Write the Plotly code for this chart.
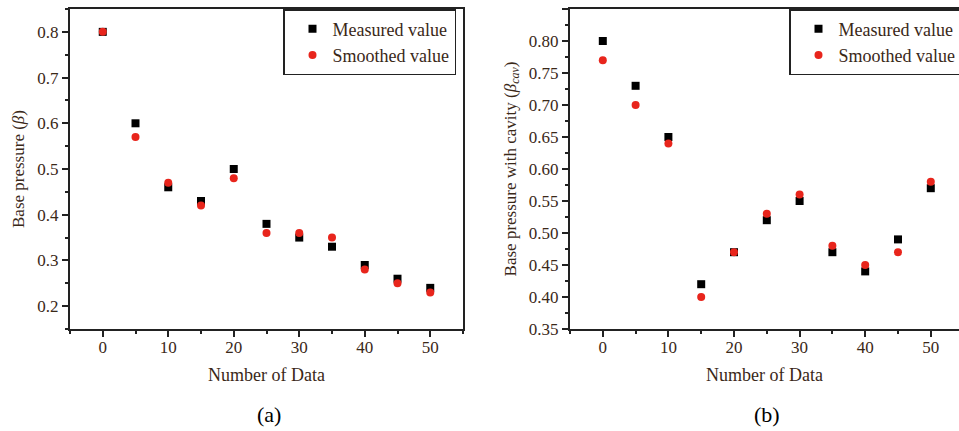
import plotly.graph_objects as go

x_data = [0, 5, 10, 15, 20, 25, 30, 35, 40, 45, 50]
a_measured = [0.80, 0.60, 0.46, 0.43, 0.50, 0.38, 0.35, 0.33, 0.29, 0.26, 0.24]
a_smoothed = [0.80, 0.57, 0.47, 0.42, 0.48, 0.36, 0.36, 0.35, 0.28, 0.25, 0.23]
b_measured = [0.80, 0.73, 0.65, 0.42, 0.47, 0.52, 0.55, 0.47, 0.44, 0.49, 0.57]
b_smoothed = [0.77, 0.70, 0.64, 0.40, 0.47, 0.53, 0.56, 0.48, 0.45, 0.47, 0.58]

W, H = 959, 431
FONT = "Liberation Serif, Times New Roman, Times, serif"
TXT = "#3a2818"
LINE = "#222222"

fig = go.Figure()
sq = dict(symbol="square", size=8, color="black")
dot = dict(symbol="circle", size=8, color="#e8251c")

fig.add_trace(go.Scatter(x=x_data, y=a_measured, mode="markers", marker=sq,
                         name="Measured value", xaxis="x", yaxis="y", legend="legend"))
fig.add_trace(go.Scatter(x=x_data, y=a_smoothed, mode="markers", marker=dot,
                         name="Smoothed value", xaxis="x", yaxis="y", legend="legend"))
fig.add_trace(go.Scatter(x=x_data, y=b_measured, mode="markers", marker=sq,
                         name="Measured value", xaxis="x2", yaxis="y2", legend="legend2"))
fig.add_trace(go.Scatter(x=x_data, y=b_smoothed, mode="markers", marker=dot,
                         name="Smoothed value", xaxis="x2", yaxis="y2", legend="legend2"))

def px(v):
    return v / W

def py(v):
    return 1 - v / H

common = dict(showgrid=False, zeroline=False, showline=True, linecolor=LINE, linewidth=2,
              ticks="outside", ticklen=6, tickwidth=1.5, tickcolor=LINE, automargin=False,
              tickfont=dict(family=FONT, size=17, color=TXT))
minor_style = dict(ticklen=3, ticks="outside", tickcolor=LINE, tickwidth=1.5)
title_font = dict(family=FONT, size=18, color=TXT)
ytitle_font = dict(family=FONT, size=17, color=TXT)

x1_dom = [px(70), px(463)]
x2_dom = [px(570), 1.0]
y_dom = [py(329), py(9)]

legend_style = dict(xanchor="left", yanchor="top", bordercolor=LINE, borderwidth=1.5,
                    bgcolor="white", font=dict(family=FONT, size=18, color=TXT),
                    tracegroupgap=0, itemsizing="trace", indentation=8)

fig.update_layout(
    width=W, height=H,
    margin=dict(l=0, r=0, t=0, b=0, autoexpand=False),
    paper_bgcolor="white", plot_bgcolor="white",
    font=dict(family=FONT, size=17, color=TXT),
    xaxis=dict(domain=x1_dom, range=[-5, 55], dtick=10, tick0=0, mirror=True,
               minor=dict(dtick=5, **minor_style), ticklabelstandoff=-4,
               title=dict(text="Number of Data", standoff=12, font=title_font),
               anchor="y", **common),
    yaxis=dict(domain=y_dom, range=[0.15, 0.85], dtick=0.1, tick0=0, mirror=True,
               minor=dict(dtick=0.05, **minor_style),
               title=dict(text="Base pressure (<i>β</i>)", standoff=8, font=ytitle_font),
               anchor="x", **common),
    xaxis2=dict(domain=x2_dom, range=[-5, 54.3], dtick=10, tick0=0, mirror=True,
                minor=dict(dtick=5, **minor_style), ticklabelstandoff=-4,
                title=dict(text="Number of Data", standoff=12, font=title_font),
                anchor="y2", **common),
    yaxis2=dict(domain=y_dom, range=[0.35, 0.85], dtick=0.05, tick0=0, tickformat=".2f", mirror=False,
                minor=dict(dtick=0.025, **minor_style),
                title=dict(text="Base pressure with cavity (<i>β</i><sub><i>cav</i></sub>)", standoff=8,
                           font=ytitle_font),
                anchor="x2", **common),
    legend=dict(x=px(283), y=py(9), **legend_style),
    legend2=dict(x=px(789), y=py(9), **legend_style),
    annotations=[
        dict(text="(a)", x=px(269), y=py(414), xref="paper", yref="paper", showarrow=False,
             xanchor="center", yanchor="middle",
             font=dict(family=FONT, size=22, color="black")),
        dict(text="(b)", x=px(767), y=py(414), xref="paper", yref="paper", showarrow=False,
             xanchor="center", yanchor="middle",
             font=dict(family=FONT, size=22, color="black")),
    ],
)

fig.write_html("out.html", config={"displayModeBar": False},
               post_script="document.body.style.margin='0';")
